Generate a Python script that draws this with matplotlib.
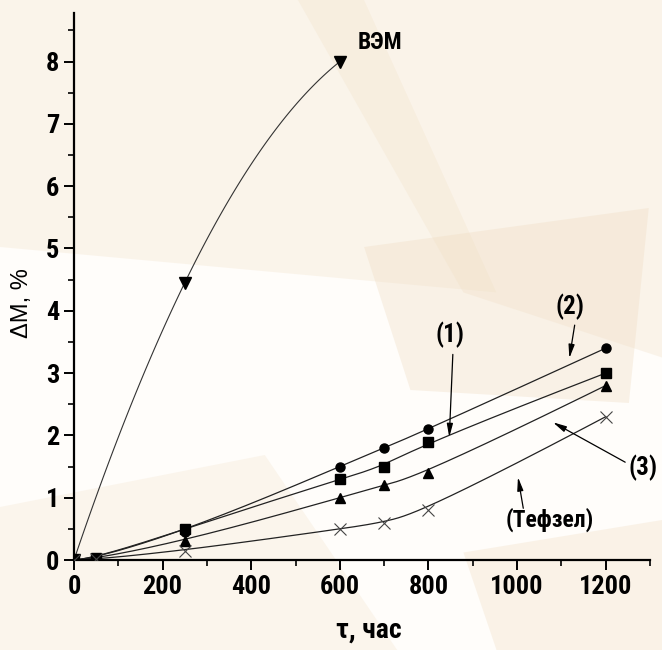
import numpy as np
import matplotlib
matplotlib.use("Agg")
import matplotlib.pyplot as plt
from matplotlib.patches import Polygon
from matplotlib import font_manager as fm

# ---- data ----
t_vem = [0, 250, 600]
dm_vem = [0.0, 4.45, 8.0]

t_ser = [0, 50, 250, 600, 700, 800, 1200]
dm_2 = [0.0, 0.03, 0.45, 1.5, 1.8, 2.1, 3.4]     # circles
dm_1 = [0.0, 0.03, 0.50, 1.3, 1.5, 1.9, 3.0]     # squares
dm_3 = [0.0, 0.02, 0.30, 1.0, 1.2, 1.4, 2.8]     # triangles
dm_tef = [0.0, 0.01, 0.15, 0.5, 0.6, 0.8, 2.3]   # crosses

x_ticks = [0, 200, 400, 600, 800, 1000, 1200]
y_ticks = [0, 1, 2, 3, 4, 5, 6, 7, 8]

# pick a condensed font if one is installed
fonts = fm.fontManager.ttflist
names = {f.name for f in fonts}
STRETCH = 'normal'
if 'Liberation Sans Narrow' in names:
    FONT = ['Liberation Sans Narrow', 'DejaVu Sans']
elif 'Roboto Condensed' in names:
    FONT = ['Roboto Condensed', 'DejaVu Sans']
elif any(f.name == 'DejaVu Sans' and f.stretch == 'condensed' for f in fonts):
    FONT = ['DejaVu Sans']
    STRETCH = 'condensed'
else:
    FONT = ['Liberation Sans', 'DejaVu Sans']
plt.rcParams['font.family'] = FONT
plt.rcParams['font.stretch'] = STRETCH
ARIAL = ['Liberation Sans', 'DejaVu Sans']


def bspline(xs, ys, n=300):
    """Clamped cubic B-spline using the data points as control points."""
    P = np.column_stack([np.asarray(xs, float), np.asarray(ys, float)])
    k = 3
    m = len(P)
    inner = np.arange(1, m - k)
    knots = np.concatenate([np.zeros(k + 1), inner, np.full(k + 1, m - k)])
    us = np.linspace(0, m - k, n)
    out = []
    for u in us:
        j = min(np.searchsorted(knots, u, side='right') - 1, m - 1)
        d = [P[i].copy() for i in range(j - k, j + 1)]
        for r in range(1, k + 1):
            for i in range(k, r - 1, -1):
                idx = i + j - k
                den = knots[idx + k + 1 - r] - knots[idx]
                alpha = 0.0 if den == 0 else (u - knots[idx]) / den
                d[i] = (1 - alpha) * d[i - 1] + alpha * d[i]
        out.append(d[k])
    out = np.array(out)
    return out[:, 0], out[:, 1]


fig = plt.figure(figsize=(6.62, 6.5), dpi=100)
fig.patch.set_facecolor('#fffdfa')

# soft beige background wash
bg = [
    ([(0.0, 1.0), (0.55, 1.0), (0.75, 0.55), (0.0, 0.62)], '#f6ead8', 0.45),
    ([(0.45, 1.0), (1.0, 1.0), (1.0, 0.45), (0.7, 0.55)], '#f3e3cc', 0.35),
    ([(0.55, 0.62), (0.98, 0.68), (0.95, 0.38), (0.62, 0.40)], '#efdcc2', 0.35),
    ([(0.0, 0.22), (0.4, 0.3), (0.6, 0.0), (0.0, 0.0)], '#f7ecdc', 0.45),
    ([(0.7, 0.15), (1.0, 0.2), (1.0, 0.0), (0.75, 0.0)], '#f4e6d2', 0.45),
]
for pts, col, a in bg:
    fig.patches.append(Polygon(pts, closed=True, transform=fig.transFigure,
                               facecolor=col, edgecolor='none', alpha=a, zorder=-5))

ax = fig.add_axes([74 / 662, (650 - 560) / 650, (650 - 74) / 662, (560 - 13) / 650])
ax.set_zorder(5)
ax.set_facecolor('none')

# curves
xv = np.linspace(0, 600, 100)
cv = np.polyfit(t_vem, dm_vem, 2)
ax.plot(xv, np.polyval(cv, xv), color='#333333', lw=0.8, zorder=2)
for ys in (dm_2, dm_1, dm_3, dm_tef):
    sx, sy = bspline(t_ser, ys)
    ax.plot(sx, sy, color='#222222', lw=0.9, zorder=2)

# markers
ax.plot(t_vem, dm_vem, linestyle='none', marker='v', ms=8, color='black', zorder=3)
ax.plot(t_ser, dm_2, linestyle='none', marker='o', ms=6.5, color='black', zorder=3)
ax.plot(t_ser, dm_1, linestyle='none', marker='s', ms=6.5, color='black', zorder=3)
ax.plot(t_ser, dm_3, linestyle='none', marker='^', ms=7.5, color='black', zorder=3)
ax.plot(t_ser, dm_tef, linestyle='none', marker='x', ms=8, mew=0.8,
        color='#444444', zorder=3)

ax.set_xlim(0, 1300)
ax.set_ylim(0, 8.78)
for s in ('top', 'right'):
    ax.spines[s].set_visible(False)
for s in ('left', 'bottom'):
    ax.spines[s].set_linewidth(1.6)
    ax.spines[s].set_clip_on(False)

ax.set_xticks(x_ticks)
ax.set_yticks(y_ticks)
ax.set_xticks(np.arange(100, 1301, 200), minor=True)
ax.set_yticks(np.arange(0.5, 8.6, 1.0), minor=True)
ax.tick_params(axis='both', which='major', direction='out', length=7, width=1.4,
               labelsize=19)
ax.tick_params(axis='both', which='minor', direction='out', length=4, width=1.2)
for lab in ax.get_xticklabels() + ax.get_yticklabels():
    lab.set_fontweight('bold')
    lab.set_fontstretch(STRETCH)

fig.text(369 / 662, 1 - 630 / 650, 'τ, час', ha='center', va='center',
         fontsize=20, fontweight='bold')
fig.text(22 / 662, 1 - 303 / 650, 'ΔM, %', ha='center', va='center',
         rotation=90, fontsize=17, family=ARIAL)

# annotations
ax.text(639, 8.3, 'ВЭМ', fontsize=17, fontweight='bold', ha='left', va='center')

arrow = dict(arrowstyle='-|>,head_length=0.8,head_width=0.18', color='black',
             lw=0.9, shrinkA=0, shrinkB=0)
ax.text(849, 3.62, '(1)', fontsize=18, fontweight='bold', ha='center', va='center')
ax.annotate('', xy=(847, 1.97), xytext=(855, 3.3), arrowprops=arrow)

ax.text(1120, 4.06, '(2)', fontsize=18, fontweight='bold', ha='center', va='center')
ax.annotate('', xy=(1118, 3.24), xytext=(1130, 3.77), arrowprops=arrow)

ax.text(1284, 1.48, '(3)', fontsize=18, fontweight='bold', ha='center',
        va='center', clip_on=False)
ax.annotate('', xy=(1081, 2.21), xytext=(1244, 1.57), arrowprops=arrow,
            annotation_clip=False)

ax.text(1074, 0.64, '(Тефзел)', fontsize=17, fontweight='bold', ha='center',
        va='center')
ax.annotate('', xy=(1002, 1.33), xytext=(1014, 0.83), arrowprops=arrow)

fig.savefig('out.png', dpi=100, facecolor=fig.get_facecolor())
